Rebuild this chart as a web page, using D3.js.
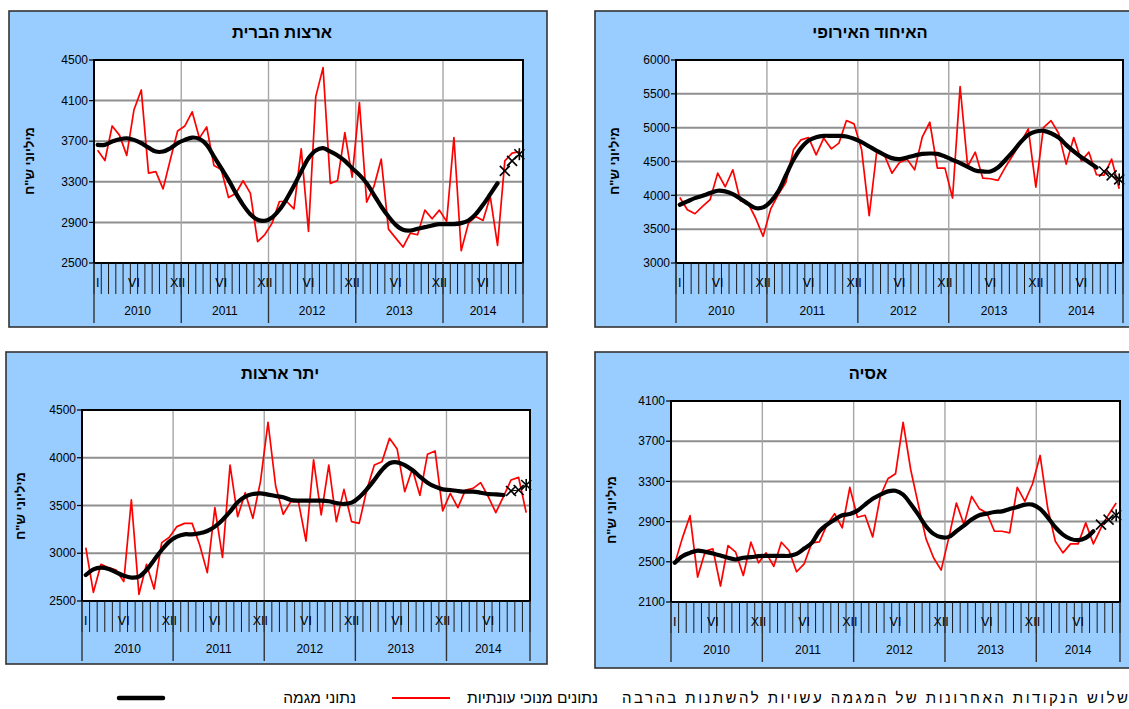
<!DOCTYPE html>
<html><head><meta charset="utf-8">
<script src="https://cdn.jsdelivr.net/npm/d3@7/dist/d3.min.js"></script>
<style>
body{margin:0;background:#fff;}
svg{display:block;}
text{font-family:"Liberation Sans",Arial,sans-serif;fill:#000;}
</style>
</head><body>
<svg id="c" width="1129" height="709"></svg>
<script>
// ---------- DATA ----------
const years = ["2010","2011","2012","2013","2014"];
const monthsPerYear = [12,12,12,12,11];
const monthLabels = [
 "I","","","","","VI","","","","","","XII",
 "","","","","","VI","","","","","","XII",
 "","","","","","VI","","","","","","XII",
 "","","","","","VI","","","","","","XII",
 "","","","","","VI","","","","",""
];

const usTicks = [2500,2900,3300,3700,4100,4500];
const usSeasonal = [3610,3510,3850,3760,3560,4010,4205,3385,3400,3230,3520,3800,
 3850,3990,3730,3840,3460,3420,3145,3185,3310,3188,2710,2780,
 2893,3106,3106,3034,3624,2811,4139,4425,3283,3313,3785,3346,
 4080,3100,3254,3523,2834,2745,2657,2795,2778,3021,2936,3021,
 2909,3736,2621,2893,2958,2919,3155,2673,3506,3582,3598];
const usTrend = [3664,3664,3697,3719,3729,3713,3680,3637,3598,3598,
 3631,3680,3713,3736,3723,3664,3549,3434,3319,3188,
 3073,2981,2926,2916,2949,3024,3132,3260,3401,3532,
 3608,3631,3598,3559,3506,3434,3368,3286,3172,3057,
 2958,2876,2827,2820,2837,2853,2870,2883,2883,2883,
 2893,2919,2981,3073,3178,3286,3408,3506,3572];

const euTicks = [3000,3500,4000,4500,5000,5500,6000];
const euSeasonal = [3969,3787,3728,3837,3935,4328,4127,4377,3920,3886,3665,3394,
 3800,4010,4190,4672,4820,4854,4599,4844,4687,4771,5105,5056,
 4672,3699,4648,4599,4328,4486,4535,4377,4859,5080,4402,4402,
 3960,5607,4426,4638,4254,4245,4220,4420,4600,4780,4982,4122,
 5002,5105,4918,4461,4854,4510,4638,4304,4300,4535,4097];
const euTrend = [3861,3910,3959,3994,4033,4068,4058,4018,3950,3876,
 3812,3822,3910,4058,4294,4525,4697,4810,4859,4879,
 4879,4879,4869,4835,4786,4722,4658,4599,4550,4535,
 4559,4589,4613,4618,4613,4574,4525,4476,4422,4368,
 4353,4353,4412,4525,4648,4786,4894,4943,4953,4918,
 4854,4746,4648,4564,4490,4412,4353,4294,4235];

const otherTicks = [2500,3000,3500,4000,4500];
const otherSeasonal = [3059,2591,2884,2849,2825,2703,3558,2570,2884,2626,3111,3167,
 3279,3313,3313,3087,2797,3477,2957,3924,3383,3634,3366,3750,
 4371,3704,3408,3540,3540,3128,3977,3401,3924,3331,3669,3331,
 3313,3662,3924,3959,4203,4092,3645,3882,3607,4036,4071,3443,
 3627,3477,3662,3680,3739,3593,3425,3593,3767,3795,3425];
const otherTrend = [2772,2832,2849,2835,2800,2765,2745,2755,2825,2930,
 3034,3121,3174,3198,3198,3209,3233,3279,3348,3436,
 3533,3593,3620,3627,3614,3600,3586,3558,3551,3551,
 3551,3551,3544,3526,3516,3530,3586,3669,3767,3872,
 3942,3952,3924,3872,3802,3739,3697,3669,3662,3652,
 3645,3645,3634,3620,3617,3610,3652,3662,3715];

const asiaTicks = [2100,2500,2900,3300,3700,4100];
const asiaSeasonal = [2483,2738,2959,2348,2606,2629,2259,2662,2596,2364,2695,2490,
 2589,2454,2695,2612,2401,2480,2688,2698,2870,2979,2837,3240,
 2943,2963,2748,3151,3326,3376,3888,3416,3069,2731,2540,2417,
 2738,3085,2870,3151,3029,2986,2804,2804,2788,3240,3102,3274,
 3558,3035,2705,2589,2678,2678,2887,2678,2837,2969,3085];
const asiaTrend = [2490,2556,2589,2612,2599,2583,2563,2540,2523,2540,
 2546,2556,2559,2559,2559,2559,2579,2632,2688,2804,
 2870,2920,2963,2976,3009,3069,3128,3168,3201,3207,
 3168,3075,2969,2854,2778,2745,2748,2804,2860,2920,
 2963,2979,2996,3002,3026,3045,3069,3069,3026,2943,
 2844,2771,2728,2715,2738,2804,2870,2920,2963];

const projectedCount = 3;
const yTitle = 'מיליוני ש"ח';
const legendNote = "שלוש הנקודות האחרונות של המגמה עשויות להשתנות בהרבה";
const legendSeasonal = "נתונים מנוכי עונתיות";
const legendTrend = "נתוני מגמה";

// ---------- LAYOUT ----------
const panels = [
 {title:"ארצות הברית", ticks:usTicks, seasonal:usSeasonal, trend:usTrend,
  frame:{x:9,y:11,w:538,h:316}, plot:{l:94,r:523,t:60,b:263}, tx:282, ty:32, yx:29, yy:161},
 {title:"האיחוד האירופי", ticks:euTicks, seasonal:euSeasonal, trend:euTrend,
  frame:{x:595,y:11,w:545,h:316}, plot:{l:676,r:1123,t:60,b:263}, tx:870, ty:32, yx:614, yy:161},
 {title:"יתר ארצות", ticks:otherTicks, seasonal:otherSeasonal, trend:otherTrend,
  frame:{x:6,y:352,w:541,h:312}, plot:{l:82,r:530,t:410,b:601}, tx:280, ty:373, yx:20, yy:506},
 {title:"אסיה", ticks:asiaTicks, seasonal:asiaSeasonal, trend:asiaTrend,
  frame:{x:595,y:352,w:545,h:316}, plot:{l:671,r:1120,t:401,b:602}, tx:868, ty:373, yx:611, yy:510}
];

const svg = d3.select("#c");
const nMonths = monthLabels.length;

function drawPanel(p){
  const g = svg.append("g");
  const {l,r,t,b} = p.plot;
  g.append("rect").attr("x",p.frame.x).attr("y",p.frame.y).attr("width",p.frame.w).attr("height",p.frame.h)
   .attr("fill","#99ccff").attr("stroke","#333").attr("stroke-width",1.6);
  g.append("rect").attr("x",l).attr("y",t).attr("width",r-l).attr("height",b-t).attr("fill","#fff");

  const x = d3.scaleBand().domain(d3.range(nMonths)).range([l,r]).paddingInner(0).paddingOuter(0);
  const bw = x.bandwidth();
  const cx = i => x(i)+bw/2;
  const y = d3.scaleLinear().domain(d3.extent(p.ticks)).range([b,t]);

  g.selectAll(".hg").data(p.ticks).enter().append("line")
   .attr("x1",l).attr("x2",r).attr("y1",d=>y(d)).attr("y2",d=>y(d))
   .attr("stroke","#8f8f8f").attr("stroke-width",2);
  const bounds = [0]; monthsPerYear.forEach(m=>bounds.push(bounds[bounds.length-1]+m));
  const bx = k => k>=nMonths ? r : x(k);
  g.selectAll(".vg").data(bounds.slice(1,-1)).enter().append("line")
   .attr("x1",d=>bx(d)).attr("x2",d=>bx(d)).attr("y1",t).attr("y2",b)
   .attr("stroke","#a6a6a6").attr("stroke-width",1.4);

  g.append("path").datum(p.seasonal)
   .attr("d", d3.line().x((d,i)=>cx(i)).y(d=>y(d)))
   .attr("fill","none").attr("stroke","#ff0000").attr("stroke-width",1.7).attr("stroke-linejoin","round");

  const nT = p.trend.length - projectedCount;
  g.append("path").datum(p.trend.slice(0,nT))
   .attr("d", d3.line().x((d,i)=>cx(i)).y(d=>y(d)).curve(d3.curveCatmullRom.alpha(0.5)))
   .attr("fill","none").attr("stroke","#000").attr("stroke-width",4.2).attr("stroke-linecap","round").attr("stroke-linejoin","round");

  const proj = p.trend.slice(nT).map((v,k)=>({i:nT+k, v}));
  g.append("path").datum(proj)
   .attr("d", d3.line().x(d=>cx(d.i)).y(d=>y(d.v)))
   .attr("fill","none").attr("stroke","#000").attr("stroke-width",1);
  proj.forEach((d,k)=>{
    const px = cx(d.i), py = y(d.v), s = 5;
    const mk = g.append("g").attr("stroke","#000").attr("stroke-width",1.6);
    mk.append("line").attr("x1",px-s).attr("y1",py-s).attr("x2",px+s).attr("y2",py+s);
    mk.append("line").attr("x1",px-s).attr("y1",py+s).attr("x2",px+s).attr("y2",py-s);
    if(k===proj.length-1){
      mk.append("line").attr("x1",px).attr("y1",py-s-1).attr("x2",px).attr("y2",py+s+1);
    }
  });

  g.append("rect").attr("x",l).attr("y",t).attr("width",r-l).attr("height",b-t)
   .attr("fill","none").attr("stroke","#000").attr("stroke-width",2);

  g.selectAll(".yt").data(p.ticks).enter().append("line")
   .attr("x1",l-5).attr("x2",l).attr("y1",d=>y(d)).attr("y2",d=>y(d))
   .attr("stroke","#000").attr("stroke-width",1.2);
  g.selectAll(".yl").data(p.ticks).enter().append("text")
   .attr("x",l-6).attr("y",d=>y(d)).attr("dy","0.35em").attr("text-anchor","end")
   .attr("font-size",12).text(d=>d);

  g.selectAll(".mt").data(d3.range(nMonths+1)).enter().append("line")
   .attr("x1",d=>bx(d)).attr("x2",d=>bx(d)).attr("y1",b).attr("y2",b+31)
   .attr("stroke","#1a1a1a").attr("stroke-width",1);
  g.selectAll(".ys").data(bounds).enter().append("line")
   .attr("x1",d=>bx(d)).attr("x2",d=>bx(d)).attr("y1",b).attr("y2",b+60)
   .attr("stroke","#333").attr("stroke-width",1.4);
  g.selectAll(".ml").data(monthLabels).enter().append("text")
   .attr("x",(d,i)=>cx(i)).attr("y",b+20).attr("dy","0.35em").attr("text-anchor","middle")
   .attr("font-size",12.5).text(d=>d);
  g.selectAll(".yrl").data(years).enter().append("text")
   .attr("x",(d,k)=>(bx(bounds[k])+bx(bounds[k+1]))/2).attr("y",b+48).attr("dy","0.35em")
   .attr("text-anchor","middle").attr("font-size",12).text(d=>d);

  g.append("text").attr("x",p.tx).attr("y",p.ty).attr("dy","0.35em").attr("text-anchor","middle")
   .attr("font-size",16.5).attr("font-weight","bold").text(p.title);
  g.append("text").attr("transform",`translate(${p.yx},${p.yy}) rotate(-90)`)
   .attr("dy","0.35em").attr("text-anchor","middle").attr("font-size",13).attr("font-weight","bold").text(yTitle);
}
panels.forEach(drawPanel);

// legend
const ly = 698;
svg.append("text").attr("x",1128).attr("y",ly).attr("dy","0.35em").attr("text-anchor","end")
  .attr("font-size",15).attr("textLength",506).attr("lengthAdjust","spacing").text(legendNote);
svg.append("text").attr("x",598).attr("y",ly).attr("dy","0.35em").attr("text-anchor","end").attr("font-size",15.5).text(legendSeasonal);
svg.append("line").attr("x1",392).attr("x2",450).attr("y1",ly).attr("y2",ly).attr("stroke","#ff0000").attr("stroke-width",2);
svg.append("text").attr("x",356).attr("y",ly).attr("dy","0.35em").attr("text-anchor","end").attr("font-size",15.5).text(legendTrend);
svg.append("line").attr("x1",119).attr("x2",163).attr("y1",ly).attr("y2",ly).attr("stroke","#000").attr("stroke-width",4.5).attr("stroke-linecap","round");
</script>
</body></html>
